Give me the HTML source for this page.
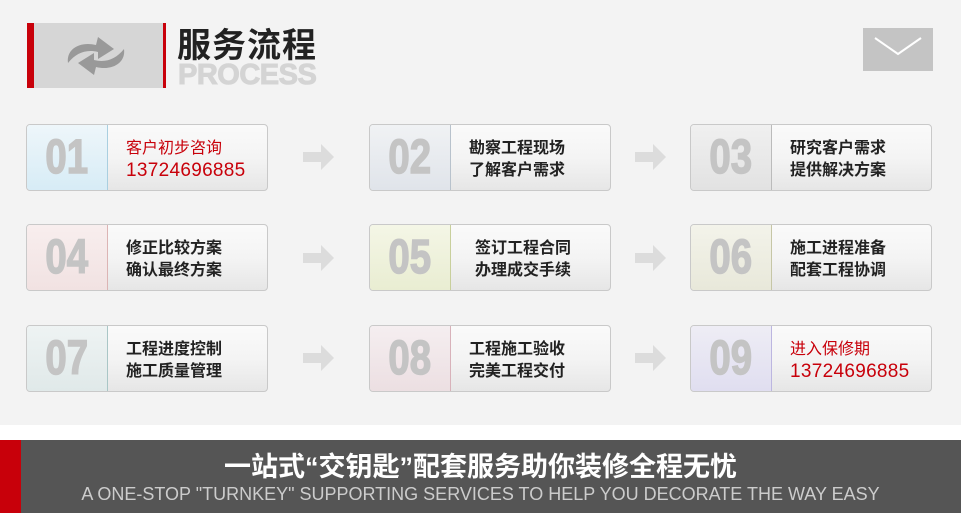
<!DOCTYPE html>
<html><head><meta charset="utf-8"><style>
*{margin:0;padding:0;box-sizing:border-box}
body{width:961px;height:513px;position:relative;background:#fff;font-family:"Liberation Sans","Noto Sans CJK SC",sans-serif;overflow:hidden}
.top{position:absolute;left:0;top:0;width:961px;height:425px;background:#f3f3f3}
.card{position:absolute;width:242px;height:67px;border:1px solid #c9c9c9;border-radius:4px;overflow:hidden;background:linear-gradient(#fafafa,#f4f4f4 50%,#e6e6e6)}
.num{position:absolute;left:0;top:0;width:81px;height:100%;border-right:1px solid;font:bold 48px "Liberation Sans",sans-serif;color:#c4c4c4;text-align:center;line-height:65px;letter-spacing:0;-webkit-text-stroke:1.5px #c4c4c4}
.num span{display:inline-block;transform:scaleX(0.8)}
.txt{position:absolute;left:99px;top:13px;font-size:16px;font-weight:bold;line-height:22px;color:#222}
.red{color:#c8000a;font-weight:normal}
.red b{font-weight:normal;font-size:19px;letter-spacing:0.3px}
</style></head><body>
<div class="top"></div>
<div style="position:absolute;left:27px;top:23px;width:7px;height:65px;background:#c8000a"></div>
<div style="position:absolute;left:34px;top:23px;width:129px;height:65px;background:#d6d6d6"></div>
<div style="position:absolute;left:163px;top:23px;width:3px;height:65px;background:#c8000a"></div>
<svg style="position:absolute;left:60px;top:33px" width="72" height="46" viewBox="0 0 72 46"><path d="M8 30 C6 16 20 8 36 12 L38 4 L54 16 L38 26 L38 19 C26 16 16 20 8 30Z" fill="#999"/><path d="M64 16 C66 30 52 38 36 34 L34 42 L18 30 L34 20 L34 27 C46 30 56 26 64 16Z" fill="#999"/></svg>
<div style="position:absolute;left:177px;top:26px;font-size:34px;font-weight:bold;color:#222;letter-spacing:1px;line-height:40px">服务流程</div>
<div style="position:absolute;left:178px;top:60px;font-size:29px;font-weight:bold;color:#d4d4d4;line-height:30px;letter-spacing:-0.5px;-webkit-text-stroke:1px #d4d4d4">PROCESS</div>
<div style="position:absolute;left:863px;top:28px;width:70px;height:43px;background:#c4c4c4"></div>
<svg style="position:absolute;left:863px;top:28px" width="70" height="43"><polyline points="12,10 35,26 58,10" fill="none" stroke="#fff" stroke-width="2"/></svg>

<div class="card" style="left:26px;top:124px"><div class="num" style="background:linear-gradient(#eef6fa,#d7ecf6);border-color:#a9cfe0"><span>01</span></div><div class="txt red">客户初步咨询<br><b>13724696885</b></div></div>
<div class="card" style="left:369px;top:124px"><div class="num" style="background:linear-gradient(#f0f2f4,#e0e4ea);border-color:#b8c2cc"><span>02</span></div><div class="txt">勘察工程现场<br>了解客户需求</div></div>
<div class="card" style="left:690px;top:124px"><div class="num" style="background:linear-gradient(#f0f0f0,#e2e2e2);border-color:#bbb"><span>03</span></div><div class="txt">研究客户需求<br>提供解决方案</div></div>

<div class="card" style="left:26px;top:224px"><div class="num" style="background:linear-gradient(#f8eeee,#f1e2e2);border-color:#dcb4b4"><span>04</span></div><div class="txt">修正比较方案<br>确认最终方案</div></div>
<div class="card" style="left:369px;top:224px"><div class="num" style="background:linear-gradient(#f4f6e6,#e9edd2);border-color:#c8cf9c"><span>05</span></div><div class="txt" style="left:105px">签订工程合同<br>办理成交手续</div></div>
<div class="card" style="left:690px;top:224px"><div class="num" style="background:linear-gradient(#f3f3ea,#e8e8da);border-color:#c6c6a6"><span>06</span></div><div class="txt">施工进程准备<br>配套工程协调</div></div>

<div class="card" style="left:26px;top:325px"><div class="num" style="background:linear-gradient(#eef3f3,#e0e9e9);border-color:#a9c6c6"><span>07</span></div><div class="txt">工程进度控制<br>施工质量管理</div></div>
<div class="card" style="left:369px;top:325px"><div class="num" style="background:linear-gradient(#f5eef0,#ecdfe2);border-color:#d8b2ba"><span>08</span></div><div class="txt">工程施工验收<br>完美工程交付</div></div>
<div class="card" style="left:690px;top:325px"><div class="num" style="background:linear-gradient(#eeedf5,#e0def0);border-color:#bcb6e0"><span>09</span></div><div class="txt red">进入保修期<br><b>13724696885</b></div></div>

<svg style="position:absolute;left:0;top:0" width="961" height="425">
<g fill="#dcdcdc">
<path d="M303 152h18v-8l13 13-13 13v-8h-18z"/>
<path d="M635 152h18v-8l13 13-13 13v-8h-18z"/>
<path d="M303 253h18v-8l13 13-13 13v-8h-18z"/>
<path d="M635 253h18v-8l13 13-13 13v-8h-18z"/>
<path d="M303 353h18v-8l13 13-13 13v-8h-18z"/>
<path d="M635 353h18v-8l13 13-13 13v-8h-18z"/>
</g></svg>

<div style="position:absolute;left:0;top:440px;width:961px;height:73px;background:#555"></div>
<div style="position:absolute;left:0;top:440px;width:21px;height:73px;background:#c8000a"></div>
<div style="position:absolute;left:0;top:449px;width:961px;text-align:center;font-size:27px;font-weight:bold;color:#fff;line-height:36px;padding-left:0">一站式“交钥匙”配套服务助你装修全程无忧</div>
<div style="position:absolute;left:0;top:484px;width:961px;text-align:center;font-size:18px;color:#ccc;line-height:20px">A ONE-STOP "TURNKEY" SUPPORTING SERVICES TO HELP YOU DECORATE THE WAY EASY</div>
</body></html>
